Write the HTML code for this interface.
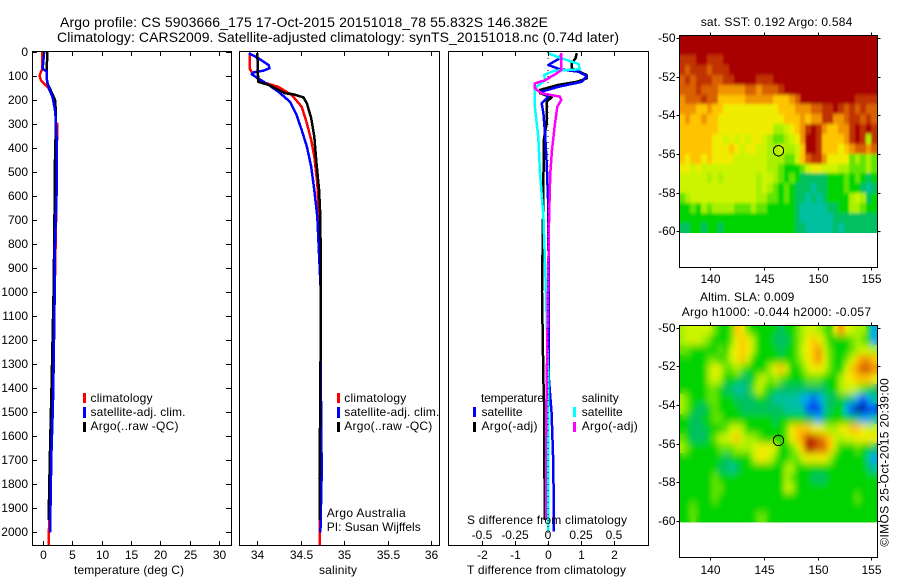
<!DOCTYPE html>
<html>
<head>
<meta charset="utf-8">
<title>Argo profile</title>
<style>
html,body{margin:0;padding:0;background:#fff}
svg{display:block}
text{font-family:"Liberation Sans",sans-serif;font-size:12px;fill:#000}
.t14{font-size:14px}
</style>
</head>
<body>
<svg id="chart" xmlns="http://www.w3.org/2000/svg" width="900" height="580" viewBox="0 0 900 580">
  <defs>
    <filter id="sst-soften" x="-5%" y="-5%" width="110%" height="110%"><feGaussianBlur stdDeviation="1 1.5"/></filter>
    <filter id="sla-soften" x="-5%" y="-5%" width="110%" height="110%"><feGaussianBlur stdDeviation="2.6 4"/></filter>
    <clipPath id="sst-clip"><rect x="680" y="36" width="197" height="197"/></clipPath>
    <clipPath id="sla-clip"><rect x="680" y="326" width="197" height="197"/></clipPath>
  </defs>
  <rect x="0" y="0" width="900" height="580" fill="#fff"/>
  <g id="sst-cells" shape-rendering="crispEdges"></g>
  <g id="sla-cells" shape-rendering="crispEdges"></g>
  <g clip-path="url(#sst-clip)"><use href="#sst-cells" filter="url(#sst-soften)"/></g>
  <g clip-path="url(#sla-clip)"><use href="#sla-cells" filter="url(#sla-soften)"/></g>
  <g id="profiles" shape-rendering="crispEdges"></g>
  <g id="axes" shape-rendering="crispEdges"></g>
  <g id="tick-labels"></g>

  <text class="t14" x="60" y="27" textLength="488">Argo profile: CS 5903666_175 17-Oct-2015 20151018_78 55.832S 146.382E</text>
  <text class="t14" x="57" y="42" textLength="562">Climatology: CARS2009. Satellite-adjusted climatology: synTS_20151018.nc (0.74d later)</text>

  <text x="74" y="574" textLength="110">temperature (deg C)</text>
  <text x="319" y="574" textLength="38">salinity</text>
  <text x="467" y="574" textLength="159">T difference from climatology</text>
  <text x="467" y="524" textLength="160">S difference from climatology</text>

  <g>
    <rect x="83" y="393" width="3" height="10" fill="#f00"/>
    <rect x="83" y="407" width="3" height="11" fill="#00f"/>
    <rect x="83" y="422" width="3" height="10" fill="#000"/>
    <text x="90.5" y="402" textLength="62">climatology</text>
    <text x="90.5" y="416" textLength="95">satellite-adj. clim.</text>
    <text x="90.5" y="430" textLength="88">Argo(..raw -QC)</text>
  </g>
  <g>
    <rect x="337" y="393" width="3" height="10" fill="#f00"/>
    <rect x="337" y="407" width="3" height="11" fill="#00f"/>
    <rect x="337" y="422" width="3" height="10" fill="#000"/>
    <text x="344.3" y="402" textLength="62">climatology</text>
    <text x="344.3" y="416" textLength="95">satellite-adj. clim.</text>
    <text x="344.3" y="430" textLength="88">Argo(..raw -QC)</text>
    <text x="326.7" y="517" textLength="79">Argo Australia</text>
    <text x="326.7" y="531" textLength="94">PI: Susan Wijffels</text>
  </g>
  <g>
    <text x="481" y="402" textLength="63">temperature</text>
    <rect x="473" y="407" width="3" height="10" fill="#00f"/>
    <rect x="473" y="422" width="3" height="10" fill="#000"/>
    <text x="481.5" y="416" textLength="41">satellite</text>
    <text x="481.5" y="430" textLength="56">Argo(-adj)</text>
    <text x="581.7" y="402" textLength="37">salinity</text>
    <rect x="573" y="407" width="3" height="10" fill="#0ff"/>
    <rect x="573" y="422" width="3" height="10" fill="#f0f"/>
    <text x="581.7" y="416" textLength="41">satellite</text>
    <text x="581.7" y="430" textLength="56">Argo(-adj)</text>
  </g>

  <text x="700.7" y="26" textLength="151.6">sat. SST: 0.192 Argo: 0.584</text>
  <text x="700" y="301" textLength="94.3">Altim. SLA: 0.009</text>
  <text x="681.7" y="316" textLength="189.3">Argo h1000: -0.044 h2000: -0.057</text>
  <text transform="translate(888.5,546.7) rotate(-90)" x="0" y="0" textLength="168.4">©IMOS 25-Oct-2015 20:39:00</text>
</svg>
<script>
// ---------- profile data: depths (m) and values ----------
const depthTempClim = [0,70,85,100,120,135,150,190,210,295,300,365,370,600,1000,1400,1700,2000,2054];
const tempClim = [-0.1,-0.1,-0.4,-0.6,-0.3,0.35,0.9,1.75,2.1,2.2,2.45,2.45,2.3,2.3,2.0,1.7,1.35,1.0,1.0];
const depthTempArgo = [0,60,100,130,170,200,250,300,500,600,800,1000,1400,1500,1700,1950];
const tempArgo = [0.75,0.65,0.6,0.75,1.5,2.05,2.2,2.2,2.0,2.0,1.9,1.8,1.45,1.35,1.15,0.95];
const depthTempAdj = [0,40,70,80,110,150,190,250,350,600,800,1000,1400,1500,1700,1800,2003];
const tempAdj = [0.2,0.05,-0.05,0.6,0.6,1.0,1.65,2.1,2.3,2.3,2.05,2.0,1.75,1.65,1.4,1.35,1.2];

const depthSalClim = [5,68,96,124,145,179,228,297,367,436,547,686,1000,2054];
const salClim = [33.91,33.91,33.955,34.05,34.24,34.395,34.51,34.57,34.62,34.655,34.69,34.71,34.73,34.72];
const depthSalArgo = [5,124,137,172,176,189,214,276,353,464,575,693,1000,1400,1780,1950];
const salArgo = [34.0,34.01,34.13,34.32,34.41,34.53,34.57,34.62,34.655,34.68,34.71,34.725,34.73,34.725,34.715,34.715];
const depthSalAdj = [5,26,54,68,78,85,93,105,137,165,207,262,325,395,478,575,686,1000,1367,1750,2003];
const salAdj = [33.905,34.01,34.13,34.14,34.07,33.955,33.935,33.99,34.13,34.24,34.375,34.45,34.51,34.57,34.62,34.655,34.69,34.73,34.73,34.74,34.725];

const depthDiffTArgo = [5,26,47,68,96,110,124,137,158,172,189,207,297,367,575,1000,1367,1506,1742,1950];
const diffTArgo = [0.87,0.83,0.72,0.72,1.17,1.17,0.87,0.31,-0.24,-0.24,0.11,-0.04,-0.04,-0.13,-0.14,-0.18,-0.14,-0.11,-0.11,-0.09];
const depthDiffTAdj = [5,26,54,72,82,100,124,145,165,186,214,255,338,464,644,1000,1367,1506,1714,1998];
const diffTAdj = [0.41,0.36,0.01,0.36,0.92,1.17,1.02,0.31,-0.19,0.01,-0.19,-0.14,-0.09,-0.04,0.01,0.02,0.03,0.11,0.16,0.18];
const depthDiffSSat = [5,26,50,72,78,96,117,151,228,353,505,686,1000,1367,1998];
const diffSSat = [0,0.10,0.23,0.24,0.05,-0.03,-0.02,-0.10,-0.10,-0.073,-0.06,-0.035,-0.015,0.002,0.002];
const depthDiffSArgo = [5,75,89,117,131,151,172,186,200,228,311,408,505,686,1000,1600,1950];
const diffSArgo = [0.10,0.10,0.065,-0.02,-0.10,-0.10,-0.05,0.09,0.10,0.07,0.05,0.03,0.017,0.008,0.0,-0.015,-0.015];

// ---------- tick labels ----------
const depthTicks = [0,100,200,300,400,500,600,700,800,900,1000,1100,1200,1300,1400,1500,1600,1700,1800,1900,2000];
const tempTicks = [0,5,10,15,20,25,30];
const salTicks = [34,34.5,35,35.5,36];
const diffTTicks = [-2,-1,0,1,2];
const diffSTicks = [-0.5,-0.25,0,0.25,0.5];
const diffSLabels = ['-0.5','-0.25','0','0.25','0.5'];
const lonTicks = [140,145,150,155];
const latTicks = [-50,-52,-54,-56,-58,-60];

// ---------- map point ----------
const floatLon = 146.382;
const floatLat = -55.832;

// ---------- colour levels ----------
const levelColors = ['#0000a8','#0048f0','#00a8f0','#00c0a0','#00c060','#00d400','#60e400','#a8f000','#ccf400','#f0ec00','#ffc400','#f09400','#d86000','#c03000','#a80000'];

// ---------- SST map levels, north to south ----------
const sstGrid = [
[14,14,14,14,14,14,14,14,14,14,14,14,14,14,14,14,14,14,14,14,14,14,14,14,14,14,14,14,14,14,14,14,14,14,14,14],
[14,14,14,14,14,14,14,14,14,14,14,14,14,14,14,14,14,14,14,14,14,14,14,14,14,14,14,14,14,14,14,14,14,14,14,14],
[13,13,13,14,14,13,13,13,14,14,14,14,14,14,14,14,14,14,14,14,14,14,14,14,14,14,14,14,14,14,14,14,14,14,14,14],
[13,12,13,13,13,12,13,13,13,14,14,14,14,14,14,14,14,14,14,14,14,14,14,14,14,14,14,14,14,14,14,14,14,14,14,14],
[12,13,12,13,13,13,12,12,13,13,14,14,14,14,13,13,13,14,14,14,14,14,14,14,14,14,14,14,14,14,14,14,14,14,14,14],
[12,12,12,13,12,12,12,11,11,11,11,11,12,12,11,12,12,12,13,14,14,14,14,14,14,14,14,14,14,14,14,14,14,14,14,14],
[11,12,12,12,13,12,12,10,10,10,10,10,11,11,11,11,11,10,10,10,11,12,14,14,14,14,14,14,14,14,14,14,13,13,13,13],
[11,11,11,10,10,11,10,10,9,9,9,9,9,9,9,9,9,9,10,10,10,11,11,11,12,12,13,13,14,13,12,13,12,13,12,12],
[10,11,10,10,11,10,10,9,9,9,9,9,9,9,9,9,9,9,9,10,10,10,11,10,11,11,13,13,11,11,12,13,13,12,13,12],
[10,10,10,10,10,10,10,9,9,9,9,9,9,9,9,9,9,7,7,8,9,10,11,13,14,13,11,10,10,11,11,13,14,13,14,13],
[10,10,10,10,10,10,9,9,8,9,8,9,8,9,9,8,7,6,6,7,8,9,11,14,14,13,10,10,10,10,11,13,14,13,7,13],
[10,10,10,10,10,10,9,9,9,10,9,8,9,9,8,8,7,7,8,7,7,8,10,14,14,13,10,10,10,9,10,11,12,12,11,12],
[10,9,10,10,9,10,9,9,9,9,8,8,8,8,8,8,7,7,7,6,6,8,10,12,13,13,11,9,9,9,9,6,7,6,7,6],
[9,9,8,9,8,8,8,8,8,8,8,8,8,8,8,8,7,7,6,5,5,5,6,8,9,9,8,8,8,7,7,6,6,6,7,6],
[8,8,8,8,8,7,8,7,8,8,8,8,8,8,7,8,8,7,6,5,6,5,4,4,4,4,4,5,5,5,6,5,6,5,4,5],
[8,8,8,8,8,8,8,8,8,8,8,8,8,8,7,8,7,6,5,6,5,4,4,4,3,4,4,5,5,5,6,5,5,4,3,4],
[6,7,8,8,8,8,8,8,8,8,8,8,8,8,7,7,6,6,5,6,5,4,4,3,4,3,4,5,5,5,5,7,8,7,4,5],
[5,5,6,5,7,6,7,7,7,7,6,6,6,7,6,6,5,5,5,5,5,4,3,3,3,3,3,4,4,5,5,7,7,6,5,5],
[5,5,5,5,5,5,5,5,5,5,5,5,5,5,5,5,5,5,5,5,5,4,3,3,3,3,3,3,4,4,4,4,4,4,4,4],
[4,4,5,5,4,5,5,4,5,5,5,5,5,5,5,5,5,5,5,5,5,4,4,3,3,3,3,3,4,3,4,4,4,4,4,4]
];

// ---------- altimeter SLA map levels, north to south ----------
const slaGrid = [
[7,8,8,8,8,8,6,5,5,6,10,9,6,5,5,5,5,5,4,5,5,6,7,8,8,7,6,5,9,11,9,8,7,7,5,2],
[7,8,8,8,7,6,5,5,5,6,9,10,9,7,5,5,5,4,4,4,5,6,7,9,10,9,7,5,5,5,5,6,7,6,5,2],
[6,6,5,5,5,5,5,6,5,8,9,10,9,7,5,5,5,5,4,5,5,6,8,9,10,11,8,6,5,5,5,6,7,8,8,7],
[5,5,5,5,5,6,6,5,6,8,9,10,8,5,5,5,5,5,5,5,5,6,7,9,10,11,9,6,5,5,6,8,10,11,11,10],
[5,5,5,5,5,7,9,8,6,6,7,6,5,5,5,5,7,9,10,8,5,5,6,8,9,9,8,6,5,5,8,10,11,12,12,11],
[5,5,5,5,5,7,8,7,5,5,5,4,4,5,7,8,6,7,6,5,5,5,5,6,6,6,5,5,5,7,9,9,10,10,10,9],
[5,5,5,5,5,6,6,5,4,4,3,3,4,6,8,6,5,5,4,4,4,4,4,4,4,4,4,5,5,7,8,8,7,6,5,4],
[7,6,5,5,5,6,6,5,5,5,4,4,4,4,5,5,4,3,3,3,3,3,2,2,1,2,3,4,4,5,4,3,2,1,2,3],
[7,6,5,4,4,5,6,5,5,5,5,4,4,4,4,4,4,4,4,3,3,3,3,1,1,1,3,4,5,5,2,1,0,0,1,1],
[5,5,4,4,5,5,6,6,5,5,5,5,5,5,5,5,5,4,5,5,5,5,5,4,3,2,4,5,5,5,5,4,3,2,2,3],
[5,5,4,4,4,5,5,5,6,8,8,7,5,5,5,5,5,5,5,6,9,10,10,10,9,9,8,7,7,9,9,10,10,9,8,8],
[6,5,4,4,4,5,6,8,8,9,10,8,7,7,6,5,5,5,5,6,9,10,11,13,13,12,11,10,8,7,8,8,9,9,9,9],
[7,6,5,5,5,5,5,6,6,6,7,7,7,8,9,9,9,8,5,5,6,8,10,14,13,12,12,10,7,5,5,5,6,5,5,4],
[5,5,5,5,5,5,5,5,4,5,5,5,5,7,9,9,8,6,5,5,6,6,8,9,9,9,9,7,5,5,5,5,5,5,3,2],
[5,5,5,5,5,5,5,4,4,3,4,5,5,5,5,5,5,5,5,7,7,5,5,5,5,5,5,5,5,5,5,5,5,5,4,3],
[5,5,5,5,5,5,6,5,5,5,5,5,5,5,5,5,5,5,5,7,6,5,5,5,4,4,4,5,5,5,5,5,5,5,5,5],
[5,5,5,5,5,5,6,6,5,5,5,5,5,5,5,5,5,5,5,8,7,5,5,5,5,5,5,5,5,5,5,5,5,5,5,5],
[5,5,5,5,5,5,6,5,5,5,5,5,5,5,5,5,5,5,5,5,5,5,5,5,5,5,5,5,5,5,5,5,6,5,5,5],
[5,5,6,5,5,5,5,5,5,5,5,5,5,5,5,5,5,5,5,5,5,5,5,5,5,5,5,5,5,5,5,5,5,5,5,5],
[5,5,6,5,5,5,5,5,5,5,5,5,5,5,6,6,5,5,5,5,5,5,5,5,5,5,5,5,5,5,5,5,5,5,5,5]
];

// ---------- axis functions ----------
const NS = 'http://www.w3.org/2000/svg';
const yDepth = d => 52 + d * 0.24;
const xTemp = v => 43 + v * 5.87;
const xSal = v => 257.3 + (v - 34) * 87;
const xDiffT = v => 548 + v * 33.1;
const xDiffS = v => 548 + v * 132.5;
const xLon = v => 709.7 + (v - 140) * 10.78;
const ySstLat = v => 38 + (-50 - v) * 19.33;
const ySlaLat = v => 327.7 + (-50 - v) * 19.33;

const profilesGroup = document.getElementById('profiles');
const axesGroup = document.getElementById('axes');
const labelsGroup = document.getElementById('tick-labels');

function drawLine(depths, values, xf, color, width, name) {
  const pl = document.createElementNS(NS, 'polyline');
  pl.setAttribute('points', values.map((v, i) => xf(v).toFixed(1) + ',' + yDepth(depths[i]).toFixed(1)).join(' '));
  pl.setAttribute('fill', 'none');
  pl.setAttribute('stroke', color);
  pl.setAttribute('stroke-width', width);
  pl.setAttribute('stroke-linejoin', 'round');
  
  
  profilesGroup.appendChild(pl);
}

function drawSeg(x1, y1, x2, y2, name) {
  const l = document.createElementNS(NS, 'line');
  l.setAttribute('x1', x1);
  l.setAttribute('y1', y1);
  l.setAttribute('x2', x2);
  l.setAttribute('y2', y2);
  l.setAttribute('stroke', '#000');
  l.setAttribute('stroke-width', 1);
  
  
  axesGroup.appendChild(l);
}

function drawFrame(x0, y0, x1, y1, name) {
  const r = document.createElementNS(NS, 'rect');
  r.setAttribute('x', x0);
  r.setAttribute('y', y0);
  r.setAttribute('width', x1 - x0);
  r.setAttribute('height', y1 - y0);
  r.setAttribute('fill', 'none');
  r.setAttribute('stroke', '#000');
  r.setAttribute('stroke-width', 1);
  
  
  axesGroup.appendChild(r);
}

function drawLabel(x, y, text, anchor, name) {
  const t = document.createElementNS(NS, 'text');
  t.setAttribute('x', x);
  t.setAttribute('y', y);
  t.setAttribute('text-anchor', anchor);
  
  
  t.textContent = text;
  labelsGroup.appendChild(t);
}

function drawGrid(grid, gid, yf, name) {
  const g = document.getElementById(gid);
  const lonStart = 137.2, lonStep = 0.508, latStart = -49.86, latStep = 0.5105;
  grid.forEach((row, r) => {
    const y0 = Math.round(yf(latStart - r * latStep));
    const y1 = Math.round(yf(latStart - (r + 1) * latStep));
    row.forEach((level, c) => {
      const x0 = Math.round(xLon(lonStart + c * lonStep));
      const x1 = Math.round(xLon(lonStart + (c + 1) * lonStep));
      const cell = document.createElementNS(NS, 'rect');
      cell.setAttribute('x', x0);
      cell.setAttribute('y', y0);
      cell.setAttribute('width', x1 - x0);
      cell.setAttribute('height', y1 - y0);
      cell.setAttribute('fill', levelColors[Math.max(0, Math.min(14, Math.round(level)))]);
      
      
      g.appendChild(cell);
    });
  });
}

// ---------- heatmaps ----------
drawGrid(sstGrid, 'sst-cells', ySstLat, 'sst-cell');
drawGrid(slaGrid, 'sla-cells', ySlaLat, 'sla-cell');

// ---------- profile lines ----------
drawLine(depthTempClim, tempClim, xTemp, '#f00', 2.5, 'temperature-climatology-line');
drawLine(depthTempArgo, tempArgo, xTemp, '#000', 2.5, 'temperature-argo-line');
drawLine(depthTempAdj, tempAdj, xTemp, '#00f', 2.5, 'temperature-satellite-line');
drawLine(depthSalClim, salClim, xSal, '#f00', 2.5, 'salinity-climatology-line');
drawLine(depthSalAdj, salAdj, xSal, '#00f', 2.5, 'salinity-satellite-line');
drawLine(depthSalArgo, salArgo, xSal, '#000', 2.5, 'salinity-argo-line');
drawLine(depthDiffTArgo, diffTArgo, xDiffT, '#000', 2.5, 't-difference-argo-line');
drawLine(depthDiffTAdj, diffTAdj, xDiffT, '#00f', 2.5, 't-difference-satellite-line');
drawLine(depthDiffSSat, diffSSat, xDiffS, '#0ff', 2.5, 's-difference-satellite-line');
drawLine(depthDiffSArgo, diffSArgo, xDiffS, '#f0f', 2.5, 's-difference-argo-line');

// ---------- profile axes ----------
const plotTop = 52, plotBottom = 545;
drawFrame(32.5, plotTop - 0.5, 231.5, plotBottom + 0.5, 'temperature-plot-frame');
drawFrame(239.5, plotTop - 0.5, 439.5, plotBottom + 0.5, 'salinity-plot-frame');
drawFrame(448.5, plotTop - 0.5, 648.5, plotBottom + 0.5, 'difference-plot-frame');

depthTicks.forEach(d => {
  const y = Math.round(yDepth(d)) + 0.5;
  drawSeg(32, y, 37, y, 'depth-tick-left');
  drawSeg(226, y, 231, y, 'depth-tick-right');
  drawLabel(28, y + 3.5, String(d), 'end', 'depth-tick-label');
});

function xTicks(ticks, xf, name, labelsArr) {
  ticks.forEach((v, i) => {
    const x = Math.round(xf(v)) + 0.5;
    drawSeg(x, plotTop - 0.5, x, plotTop + 4, name + '-top');
    drawSeg(x, plotBottom - 4, x, plotBottom + 0.5, name + '-bottom');
    drawLabel(x, 559, labelsArr ? labelsArr[i] : String(v), 'middle', name + '-label');
  });
}
xTicks(tempTicks, xTemp, 'temperature-tick');
xTicks(salTicks, xSal, 'salinity-tick');
xTicks(diffTTicks, xDiffT, 't-difference-tick');
diffSTicks.forEach((v, i) => {
  drawLabel(Math.round(xDiffS(v)), 539, diffSLabels[i], 'middle', 's-difference-tick-label');
});

// zero reference (dotted) in the difference panel
const zeroLine = document.createElementNS(NS, 'line');
zeroLine.setAttribute('x1', xDiffT(0));
zeroLine.setAttribute('x2', xDiffT(0));
zeroLine.setAttribute('y1', plotTop);
zeroLine.setAttribute('y2', plotBottom);
zeroLine.setAttribute('stroke', '#000');
zeroLine.setAttribute('stroke-dasharray', '1 5');


axesGroup.appendChild(zeroLine);

// ---------- map axes ----------
function mapAxes(yf, y0, y1, labelBase, name) {
  const x0 = 679.5, x1 = 877.5;
  drawFrame(x0, y0, x1, y1, name + '-frame');
  lonTicks.forEach(v => {
    const x = Math.round(xLon(v)) + 0.5;
    drawSeg(x, y0 - 3, x, y0, name + '-lon-tick-top');
    drawSeg(x, y1, x, y1 + 3, name + '-lon-tick-bottom');
    drawLabel(x, labelBase, String(v), 'middle', name + '-lon-label');
  });
  latTicks.forEach(v => {
    const y = Math.round(yf(v)) + 0.5;
    drawSeg(x0 - 3, y, x0, y, name + '-lat-tick-left');
    drawSeg(x1, y, x1 + 3, y, name + '-lat-tick-right');
    drawLabel(675.5, y + 3.5, String(v), 'end', name + '-lat-label');
  });
  const c = document.createElementNS(NS, 'circle');
  c.setAttribute('cx', xLon(floatLon));
  c.setAttribute('cy', yf(floatLat));
  c.setAttribute('r', 5.2);
  c.setAttribute('fill', 'none');
  c.setAttribute('stroke', '#000');
  c.setAttribute('stroke-width', 1);
  
  
  axesGroup.appendChild(c);
}
mapAxes(ySstLat, 35.5, 267.5, 283, 'sst-map');
mapAxes(ySlaLat, 325.5, 557.5, 574, 'sla-map');
</script>
</body>
</html>
